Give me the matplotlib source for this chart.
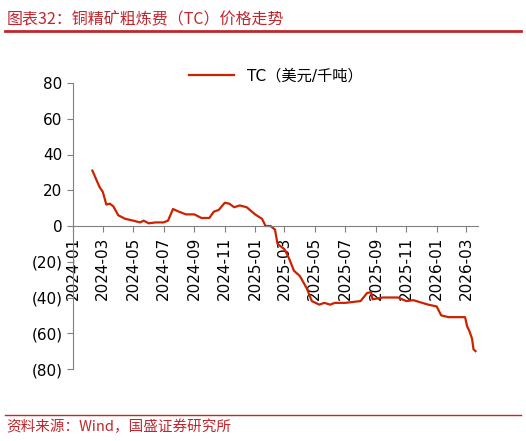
import matplotlib
matplotlib.use("Agg")
import matplotlib.pyplot as plt
import matplotlib.dates as mdates
import numpy as np
import pandas as pd

plt.rcParams['font.family'] = ['DejaVu Sans', 'Noto Sans CJK SC']

dates = ["2024-02-09","2024-02-23","2024-03-01","2024-03-08","2024-03-15","2024-03-22","2024-04-01","2024-04-15",
 "2024-05-01","2024-05-15","2024-05-22","2024-06-01","2024-06-15","2024-07-01","2024-07-10","2024-07-20",
 "2024-08-01","2024-08-15","2024-09-01","2024-09-15","2024-10-01","2024-10-10","2024-10-20","2024-11-01",
 "2024-11-10","2024-11-20","2024-12-01","2024-12-15","2025-01-01","2025-01-15","2025-01-22","2025-02-01",
 "2025-02-10","2025-02-15","2025-03-01","2025-03-10","2025-03-20","2025-04-01","2025-04-15","2025-04-25",
 "2025-05-10","2025-05-20","2025-06-01","2025-06-10","2025-07-01","2025-08-01","2025-08-14","2025-08-22",
 "2025-08-25","2025-09-15","2025-10-15","2025-11-01","2025-11-15","2025-12-15","2026-01-01","2026-01-10",
 "2026-01-25","2026-02-27","2026-03-03","2026-03-08","2026-03-13","2026-03-16","2026-03-20"]
tc = [31,22,19,12,12.5,11,6,4,3,2,3,1.5,2,2,3,9.5,8,6.5,6.5,4.5,4.5,8,9,13,12.5,10.5,11.5,10.5,6.5,4,0,0,
      -2,-10,-13,-18,-25,-28,-35,-42,-44,-43,-44,-43,-43,-42,-37.5,-37,-41,-40,-40,-42,-41.5,-44,-45,-50,
      -51,-51,-56,-59,-63,-69,-70]
x = pd.to_datetime(dates)

fig = plt.figure(figsize=(5.26, 4.41), dpi=100)
ax = fig.add_axes([73/526, 1-369/441, (478-73)/526, (369-83)/441])
ax.plot(x, tc, color='#CC2200', lw=1.6, label='TC（美元/千吨）')
ax.set_ylim(-80, 80)
ax.set_yticks(np.arange(-80, 81, 20))
ax.set_yticklabels([f"({abs(v)})" if v < 0 else str(v) for v in range(-80, 81, 20)], fontsize=11)
ax.set_xlim(pd.Timestamp("2024-01-01"), pd.Timestamp("2026-03-25"))
ax.xaxis.set_major_locator(mdates.MonthLocator(bymonth=[1,3,5,7,9,11]))
ax.xaxis.set_major_formatter(mdates.DateFormatter("%Y-%m"))
ax.tick_params(axis='x', labelrotation=90, labelsize=11)
for s in ['top', 'right']:
    ax.spines[s].set_visible(False)
ax.spines['bottom'].set_position(('data', 0))
ax.spines['bottom'].set_color('#808080')
ax.spines['left'].set_color('#808080')
ax.tick_params(axis='both', color='#808080', length=4, direction='out')
ax.legend(loc='upper center', bbox_to_anchor=(0.5, 1.1), frameon=False, fontsize=11, handlelength=3)

fig.text(0.012, 0.975, "图表32：铜精矿粗炼费（TC）价格走势", color='#C0272D', fontsize=11.5,
         style='italic', va='top', family=['Noto Sans CJK SC'])
fig.add_artist(plt.Line2D([0.01, 0.99], [1-31/441]*2, color='#C0272D', lw=2))
fig.add_artist(plt.Line2D([0.01, 0.99], [1-415/441]*2, color='#C0272D', lw=1))
fig.text(0.012, 1-427/441, "资料来源：Wind，国盛证券研究所", color='#C0272D', fontsize=10.5,
         style='italic', va='center', family=['Noto Sans CJK SC'])
fig.savefig("out.png", dpi=100)
